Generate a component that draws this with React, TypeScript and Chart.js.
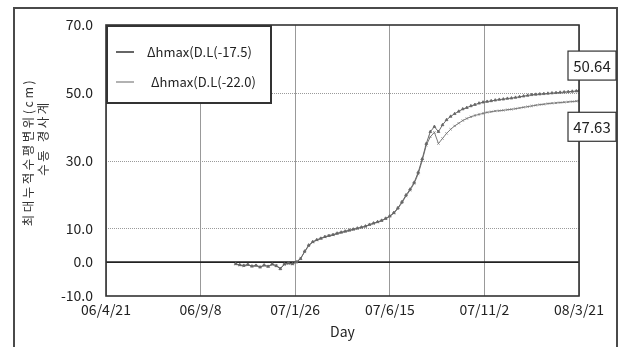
import React, { useEffect, useRef } from "react";
import { Chart, registerables } from "chart.js";

Chart.register(...registerables);

const xTickLabels = ["06/4/21", "06/9/8", "07/1/26", "07/6/15", "07/11/2", "08/3/21"];
const yTickValues = [-10, 0, 10, 30, 50, 70];
const seriesNames = ["\u0394hmax(D.L(-17.5)", "\u0394hmax(D.L(-22.0)"];
const yTitleLines = ["최대누적수평변위(cm)", "수동 경사계"];
const xTitle = "Day";

const days = [
  192, 198, 204, 210, 216, 222, 228, 234, 240, 246, 252, 258, 264, 270, 276, 282,
  288, 294, 300, 306, 312, 318, 324, 330, 336, 342, 348, 354, 360, 366, 372, 378,
  384, 390, 396, 402, 408, 414, 420, 426, 432, 438, 444, 450, 456, 462, 468, 474,
  480, 486, 492, 498, 504, 510, 516, 522, 528, 534, 540, 546, 552, 558, 564, 570,
  576, 582, 588, 594, 600, 606, 612, 618, 624, 630, 636, 642, 648, 654, 660, 666,
  672, 678, 684, 690, 696, 700,
];

const seriesA = [
  -0.5, -0.8, -1.0, -0.7, -1.2, -1.0, -1.5, -0.9, -1.3, -0.6, -1.1, -2.0, -0.6, -0.3, -0.5, 0.0,
  1.0, 3.2, 5.0, 6.0, 6.6, 7.0, 7.5, 7.8, 8.1, 8.5, 8.8, 9.1, 9.4, 9.7, 10.0, 10.3,
  10.6, 11.1, 11.5, 11.9, 12.3, 12.9, 13.6, 14.6, 16.0, 17.8, 19.8, 21.5, 23.5, 26.5, 30.5, 35.0,
  38.5, 40.0, 38.5, 40.5, 42.0, 43.0, 43.8, 44.5, 45.2, 45.6, 46.1, 46.5, 46.9, 47.2, 47.4, 47.6,
  47.8, 48.0, 48.1, 48.3, 48.4, 48.6, 48.8, 49.0, 49.2, 49.4, 49.5, 49.6, 49.7, 49.8, 49.9, 50.0,
  50.1, 50.2, 50.3, 50.4, 50.5, 50.64,
];

const seriesB = [
  -0.6, -0.9, -1.1, -0.8, -1.3, -0.9, -1.4, -1.0, -1.2, -0.7, -1.0, -1.8, -0.7, -0.4, -0.6, 0.1,
  1.1, 3.0, 4.8, 5.9, 6.5, 7.0, 7.4, 7.8, 8.0, 8.4, 8.7, 9.0, 9.3, 9.6, 9.9, 10.2,
  10.5, 11.0, 11.4, 11.8, 12.2, 12.8, 13.5, 14.4, 15.8, 17.5, 19.5, 21.2, 23.2, 26.0, 30.0, 34.5,
  37.0, 38.3, 35.0, 36.5, 38.0, 39.2, 40.2, 41.0, 41.8, 42.4, 42.9, 43.3, 43.6, 43.9, 44.2, 44.4,
  44.6, 44.7, 44.8, 45.0, 45.1, 45.3, 45.5, 45.7, 45.9, 46.1, 46.3, 46.5, 46.6, 46.8, 46.9, 47.0,
  47.1, 47.2, 47.3, 47.4, 47.5, 47.63,
];

const FONT = '"Noto Sans CJK KR", "Noto Sans", sans-serif';

const overlayPlugin = {
  id: "overlay",
  beforeDatasetsDraw(chart: any) {
    const { ctx, chartArea, scales } = chart;
    const y = scales.y;
    ctx.save();
    [10, 30, 50].forEach((v) => {
      const py = Math.round(y.getPixelForValue(v)) + 0.5;
      ctx.strokeStyle = "#9a9a9a";
      ctx.lineWidth = 1;
      ctx.setLineDash([1, 1]);
      ctx.beginPath();
      ctx.moveTo(chartArea.left, py);
      ctx.lineTo(chartArea.right, py);
      ctx.stroke();
    });
    ctx.setLineDash([]);
    const p0 = y.getPixelForValue(0);
    ctx.strokeStyle = "#222";
    ctx.lineWidth = 1.6;
    ctx.beginPath();
    ctx.moveTo(chartArea.left, p0);
    ctx.lineTo(chartArea.right, p0);
    ctx.stroke();
    ctx.restore();
  },
  afterDraw(chart: any) {
    const { ctx, chartArea, scales } = chart;
    const y = scales.y;
    ctx.save();
    // plot border
    ctx.strokeStyle = "#333";
    ctx.lineWidth = 1.6;
    ctx.strokeRect(chartArea.left, chartArea.top, chartArea.right - chartArea.left, chartArea.bottom - chartArea.top);

    // y-axis title (two lines, rotated)
    ctx.fillStyle = "#333";
    ctx.font = `12.5px ${FONT}`;
    ctx.textAlign = "center";
    ctx.textBaseline = "middle";
    (ctx as any).letterSpacing = "2.5px";
    const titlePos = [
      { x: 28, y: 152 },
      { x: 43, y: 138 },
    ];
    yTitleLines.forEach((line, i) => {
      ctx.save();
      ctx.translate(titlePos[i].x, titlePos[i].y);
      ctx.rotate(-Math.PI / 2);
      ctx.fillText(line, 0, 0);
      ctx.restore();
    });
    (ctx as any).letterSpacing = "0px";

    // legend
    const lx = chartArea.left;
    const ly = chartArea.top;
    ctx.fillStyle = "#fff";
    ctx.fillRect(lx, ly, 165, 78);
    ctx.strokeStyle = "#333";
    ctx.lineWidth = 2;
    ctx.strokeRect(lx + 1, ly + 1, 164, 77);
    const items = [
      { name: seriesNames[0], color: "#333", dy: 27, tx: 41 },
      { name: seriesNames[1], color: "#999", dy: 57, tx: 45 },
    ];
    ctx.font = `13px ${FONT}`;
    ctx.textBaseline = "middle";
    ctx.textAlign = "left";
    items.forEach((it) => {
      ctx.strokeStyle = it.color;
      ctx.lineWidth = 1.5;
      ctx.beginPath();
      ctx.moveTo(lx + 10, ly + it.dy);
      ctx.lineTo(lx + 28, ly + it.dy);
      ctx.stroke();
      ctx.fillStyle = "#222";
      ctx.fillText(it.name, lx + it.tx, ly + it.dy);
    });

    // end value labels
    const lastA = seriesA[seriesA.length - 1];
    const lastB = seriesB[seriesB.length - 1];
    const boxes = [
      { text: lastA.toFixed(2), cy: y.getPixelForValue(lastA) - 25 },
      { text: lastB.toFixed(2), cy: y.getPixelForValue(lastB) + 26 },
    ];
    ctx.font = `15px ${FONT}`;
    ctx.textAlign = "center";
    boxes.forEach((b) => {
      const cx = chartArea.right + 13;
      const w = 48;
      const h = 29;
      ctx.fillStyle = "#fff";
      ctx.fillRect(cx - w / 2, b.cy - h / 2, w, h);
      ctx.strokeStyle = "#333";
      ctx.lineWidth = 1.2;
      ctx.strokeRect(cx - w / 2, b.cy - h / 2, w, h);
      ctx.fillStyle = "#222";
      ctx.fillText(b.text, cx, b.cy + 1);
    });
    ctx.restore();
  },
};

export default function App() {
  const ref = useRef<HTMLCanvasElement | null>(null);

  useEffect(() => {
    if (!ref.current) return;
    const chart = new Chart(ref.current, {
      type: "line",
      data: {
        datasets: [
          {
            label: seriesNames[0],
            data: days.map((d, i) => ({ x: d, y: seriesA[i] })),
            borderColor: "#666",
            backgroundColor: "#666",
            borderWidth: 1,
            pointRadius: 1.6,
            pointStyle: "triangle",
            pointBorderWidth: 0.8,
          },
          {
            label: seriesNames[1],
            data: days.map((d, i) => ({ x: d, y: seriesB[i] })),
            borderColor: "#7a7a7a",
            backgroundColor: "#7a7a7a",
            borderWidth: 1,
            pointRadius: 1.6,
            pointStyle: "crossRot",
            pointBorderWidth: 0.8,
          },
        ],
      },
      options: {
        responsive: false,
        animation: false,
        layout: { padding: { top: 25, right: 43, bottom: 0, left: 0 } },
        plugins: { legend: { display: false }, tooltip: { enabled: false } },
        scales: {
          x: {
            type: "linear",
            min: 0,
            max: 700,
            afterFit: (s: any) => {
              s.height = 51;
            },
            ticks: {
              stepSize: 140,
              padding: 5,
              color: "#222",
              font: { family: FONT, size: 14 },
              maxRotation: 0,
              callback: (v: any) => xTickLabels[Math.round(Number(v) / 140)] ?? "",
            },
            grid: { color: "#999", lineWidth: 1, drawTicks: false },
            border: { display: false },
            title: {
              display: true,
              text: xTitle,
              color: "#222",
              font: { family: FONT, size: 14, lineHeight: 1.2 },
              padding: { top: 0, bottom: 7 },
            },
          },
          y: {
            min: -10,
            max: 70,
            afterFit: (s: any) => {
              s.width = 106;
            },
            afterBuildTicks: (s: any) => {
              s.ticks = yTickValues.map((v) => ({ value: v }));
            },
            ticks: {
              padding: 13,
              color: "#222",
              font: { family: FONT, size: 14 },
              callback: (v: any) => Number(v).toFixed(1),
            },
            grid: { display: false, drawTicks: false },
            border: { display: false },
            title: { display: false },
          },
        },
      },
      plugins: [overlayPlugin],
    } as any);
    return () => chart.destroy();
  }, []);

  return (
    <div style={{ position: "fixed", left: 0, top: 0, width: 622, height: 347, background: "#fff", overflow: "hidden" }}>
      <div
        style={{
          position: "absolute",
          left: 13,
          top: 7,
          width: 605,
          height: 360,
          boxSizing: "border-box",
          border: "2px solid #4a4a4a",
        }}
      />
      <canvas ref={ref} width={622} height={347} style={{ position: "absolute", left: 0, top: 0 }} />
    </div>
  );
}
